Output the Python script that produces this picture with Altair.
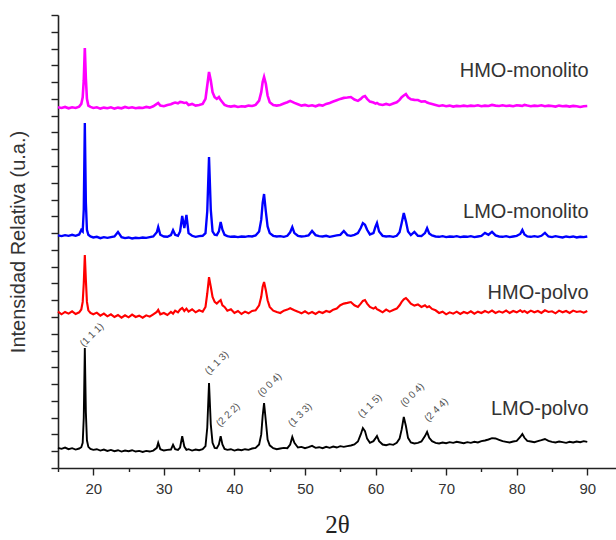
import altair as alt
import pandas as pd

# 2-theta sampling grid (degrees)
two_theta = [
    15.0, 15.5, 16.0, 16.5, 17.0, 17.5, 18.0, 18.3, 18.5, 18.65,
    18.8, 18.95, 19.1, 19.3, 19.6, 20.0, 20.5, 21.0, 21.5, 22.0,
    22.5, 23.0, 23.5, 24.0, 24.5, 25.0, 25.5, 26.0, 26.5, 27.0,
    27.5, 28.0, 28.5, 29.0, 29.2, 29.5, 30.0, 30.5, 31.0, 31.3,
    31.6, 32.0, 32.3, 32.6, 32.9, 33.2, 33.5, 34.0, 34.5, 35.0,
    35.5, 35.9, 36.15, 36.4, 36.65, 36.9, 37.2, 37.5, 37.8, 38.05,
    38.3, 38.6, 39.0, 39.5, 40.0, 40.5, 41.0, 41.5, 42.0, 42.5,
    43.0, 43.5, 43.8, 44.0, 44.2, 44.45, 44.7, 45.0, 45.5, 46.0,
    46.5, 47.0, 47.5, 47.9, 48.2, 48.5, 49.0, 49.5, 50.0, 50.5,
    51.0, 51.5, 52.0, 52.5, 53.0, 53.5, 54.0, 54.5, 55.0, 55.5,
    56.0, 56.5, 57.0, 57.5, 57.9, 58.2, 58.5, 58.8, 59.2, 59.7,
    60.0, 60.2, 60.5, 61.0, 61.5, 62.0, 62.5, 63.0, 63.4, 63.7,
    64.0, 64.3, 64.6, 65.0, 65.5, 66.0, 66.5, 67.0, 67.3, 67.6,
    68.0, 68.5, 69.0, 69.5, 70.0, 70.5, 71.0, 71.5, 72.0, 72.5,
    73.0, 73.5, 74.0, 74.5, 75.0, 75.5, 76.0, 76.5, 77.0, 77.5,
    78.0, 78.5, 79.0, 79.5, 80.0, 80.5, 80.8, 81.1, 81.5, 82.0,
    82.5, 83.0, 83.5, 84.0, 84.5, 85.0, 85.5, 86.0, 86.5, 87.0,
    87.5, 88.0, 88.5, 89.0, 89.5, 90.0,
]

lmo_polvo = [
    120, 114, 122, 112, 118, 110, 116, 124, 150, 300,
    715, 330, 165, 126, 114, 108, 112, 104, 110, 102,
    108, 100, 106, 98, 104, 100, 106, 98, 102, 96,
    102, 98, 104, 120, 150, 112, 104, 108, 110, 138,
    112, 108, 122, 190, 128, 108, 112, 104, 110, 106,
    112, 130, 240, 507, 260, 150, 120, 118, 140, 190,
    140, 114, 108, 112, 104, 110, 106, 112, 108, 116,
    120, 140, 200, 310, 387, 280, 170, 135, 118, 112,
    116, 120, 118, 140, 185, 150, 122, 126, 118, 124,
    132, 120, 124, 118, 126, 120, 128, 122, 130, 126,
    130, 134, 140, 158, 200, 238, 220, 175, 150, 160,
    178, 191, 160, 140, 136, 142, 138, 150, 175, 230,
    304, 250, 180, 152, 146, 150, 158, 190, 215, 180,
    160, 150, 146, 152, 148, 154, 150, 156, 152, 148,
    154, 150, 156, 152, 160, 164, 170, 178, 176, 168,
    160, 156, 152, 158, 162, 185, 203, 180, 162, 158,
    154, 160, 166, 173, 162, 156, 152, 158, 154, 150,
    156, 152, 158, 154, 160, 156,
]

hmo_polvo = [
    112, 96, 110, 100, 114, 98, 108, 125, 170, 280,
    449, 300, 170, 120, 104, 96, 106, 88, 100, 84,
    96, 80, 92, 76, 90, 78, 94, 80, 88, 76,
    90, 82, 96, 110, 122, 96, 104, 92, 110, 100,
    118, 108, 124, 134, 116, 130, 112, 126, 108, 120,
    112, 140, 220, 318, 260, 200, 170, 160, 172, 181,
    150, 140, 118, 126, 104, 116, 98, 112, 102, 116,
    120, 150, 200, 260, 289, 240, 180, 140, 118, 110,
    104, 118, 124, 132, 126, 120, 112, 102, 114, 100,
    110, 98, 112, 104, 116, 110, 124, 130, 150, 160,
    164, 169, 150, 140, 160, 176, 181, 160, 140, 130,
    138, 126, 120, 108, 124, 112, 122, 130, 150, 170,
    185, 193, 180, 160, 148, 155, 140, 150, 138, 144,
    128, 120, 104, 112, 96, 108, 100, 112, 98, 110,
    102, 114, 100, 112, 104, 116, 106, 118, 104, 114,
    106, 118, 104, 116, 108, 120, 110, 116, 104, 118,
    108, 116, 104, 120, 110, 114, 102, 118, 108, 116,
    104, 118, 110, 114, 106, 116,
]

lmo_monolito = [
    106, 102, 108, 104, 110, 104, 112, 139, 130, 260,
    776, 300, 140, 110, 100, 94, 98, 90, 96, 92,
    96, 100, 127, 96, 90, 94, 88, 92, 90, 94,
    92, 96, 100, 125, 156, 110, 100, 98, 108, 138,
    110, 104, 130, 222, 150, 228, 120, 104, 98, 102,
    104, 120, 250, 573, 260, 130, 110, 108, 130, 186,
    140, 110, 102, 98, 100, 96, 100, 98, 102, 100,
    106, 130, 200, 300, 353, 250, 160, 120, 104, 100,
    102, 98, 104, 125, 156, 120, 104, 100, 102, 106,
    133, 108, 102, 100, 104, 98, 102, 106, 110, 133,
    108, 104, 110, 120, 150, 180, 170, 140, 112, 120,
    160, 180, 130, 104, 100, 102, 98, 104, 125, 180,
    240, 190, 130, 108, 127, 104, 102, 120, 150, 118,
    106, 100, 98, 102, 96, 100, 98, 102, 96, 100,
    98, 102, 96, 100, 104, 121, 110, 127, 106, 100,
    98, 102, 96, 100, 104, 115, 139, 112, 100, 98,
    102, 98, 104, 121, 100, 96, 102, 98, 94, 100,
    96, 100, 94, 98, 96, 100,
]

hmo_monolito = [
    90, 86, 92, 84, 90, 86, 94, 110, 150, 250,
    443, 260, 140, 100, 92, 86, 90, 82, 88, 84,
    90, 82, 88, 84, 92, 86, 90, 84, 88, 86,
    92, 88, 96, 110, 116, 100, 96, 104, 108, 114,
    118, 114, 122, 120, 116, 118, 104, 110, 100, 104,
    110, 140, 220, 300, 250, 180, 150, 140, 151, 133,
    120, 104, 98, 94, 98, 92, 96, 94, 100, 98,
    104, 130, 180, 240, 270, 230, 160, 120, 104, 100,
    104, 112, 120, 128, 122, 116, 108, 100, 104, 98,
    102, 96, 104, 100, 110, 116, 124, 132, 140, 146,
    148, 151, 136, 128, 140, 152, 157, 140, 124, 118,
    112, 116, 108, 104, 110, 104, 112, 120, 134, 150,
    160, 169, 150, 138, 134, 133, 124, 126, 118, 114,
    110, 104, 98, 102, 96, 100, 94, 98, 96, 100,
    96, 100, 98, 102, 96, 100, 98, 104, 100, 98,
    102, 98, 100, 96, 102, 100, 98, 104, 100, 96,
    100, 98, 102, 96, 100, 98, 94, 100, 96, 98,
    94, 98, 96, 92, 96, 98,
]

series_names = ["LMO-polvo", "HMO-polvo", "LMO-monolito", "HMO-monolito"]
series_offsets = [0, 820, 1280, 2060]
series_colors = ["#000000", "#ff0000", "#0000ff", "#ff00ff"]
label_y = [352, 1043, 1526, 2366]

miller_text = ["(1 1 1)", "(1 1 3)", "(2 2 2)", "(0 0 4)", "(1 3 3)", "(1 1 5)", "(0 0 4)", "(2 4 4)"]
miller_x = [19.8, 37.5, 39.1, 45.0, 49.3, 59.2, 65.2, 68.6]
miller_y = [793, 626, 316, 495, 316, 370, 435, 346]

all_series = [lmo_polvo, hmo_polvo, lmo_monolito, hmo_monolito]
for s in all_series:
    if len(s) != len(two_theta):
        raise ValueError(f"length mismatch {len(s)} vs {len(two_theta)}")

rows = []
for name, off, ys in zip(series_names, series_offsets, all_series):
    for xv, yv in zip(two_theta, ys):
        rows.append({"x": xv, "y": yv + off, "series": name})
df = pd.DataFrame(rows)

labels_df = pd.DataFrame({"x": [90.2] * 4, "y": label_y, "label": series_names})
miller_df = pd.DataFrame({"x": miller_x, "y": miller_y, "label": miller_text})

FONT = "Liberation Sans"
AX = "#222222"

x_scale = alt.Scale(domain=[15, 94.07], nice=False, zero=False)
y_scale = alt.Scale(domain=[0, 2700], nice=False, zero=False)

y_axis = alt.Axis(
    values=list(range(0, 2701, 100)), labels=False, tickSize=7, tickWidth=1.4,
    domainWidth=1.6, domainColor=AX, tickColor=AX, grid=False,
    title="Intensidad Relativa (u.a.)", titleFont=FONT, titleFontSize=20,
    titleFontWeight="normal", titleColor="#333333", titleX=-40, titleBaseline="middle",
)

x_axis = alt.Axis(
    values=[20, 30, 40, 50, 60, 70, 80, 90], tickSize=7, tickWidth=1.4,
    domainWidth=1.6, domainColor=AX, tickColor=AX, grid=False,
    labelFont=FONT, labelFontSize=15, labelColor="#333333", labelPadding=6,
    title="2θ", titleFont="Liberation Serif", titleFontSize=25,
    titleFontWeight="normal", titleColor="#222222", titleY=56, titleBaseline="middle",
    orient="bottom",
)

x_minor_axis = alt.Axis(
    values=[15, 25, 35, 45, 55, 65, 75, 85], tickSize=3.5, tickWidth=1.4,
    tickColor=AX, domain=False, labels=False, grid=False, title="", orient="bottom",
)

lines = alt.Chart(df).mark_line(interpolate="linear").encode(
    x=alt.X("x:Q", scale=x_scale, axis=x_axis),
    y=alt.Y("y:Q", scale=y_scale, axis=y_axis),
    color=alt.Color("series:N", scale=alt.Scale(domain=series_names, range=series_colors), legend=None),
    strokeWidth=alt.StrokeWidth("series:N", scale=alt.Scale(domain=series_names, range=[1.9, 2.6, 1.6, 1.6]), legend=None),
    detail="series:N",
)

labels = alt.Chart(labels_df).mark_text(
    align="right", baseline="middle", font=FONT, fontSize=20, color="#333333"
).encode(
    x=alt.X("x:Q", scale=x_scale, axis=x_minor_axis),
    y=alt.Y("y:Q", scale=y_scale, axis=y_axis),
    text="label:N",
)

miller = alt.Chart(miller_df).mark_text(
    align="center", baseline="middle", font=FONT, fontSize=10, color="#555555", angle=315
).encode(
    x=alt.X("x:Q", scale=x_scale, axis=None),
    y=alt.Y("y:Q", scale=y_scale, axis=y_axis),
    text="label:N",
)

chart = alt.layer(lines, labels, miller).resolve_axis(x="independent").properties(
    width=558, height=453,
    autosize=alt.AutoSizeParams(type="none"),
    padding={"left": 58, "top": 15, "right": 0, "bottom": 72},
    background="white",
).configure_view(stroke=None)

chart.save("out.html", embed_options={"renderer": "svg", "actions": False})
